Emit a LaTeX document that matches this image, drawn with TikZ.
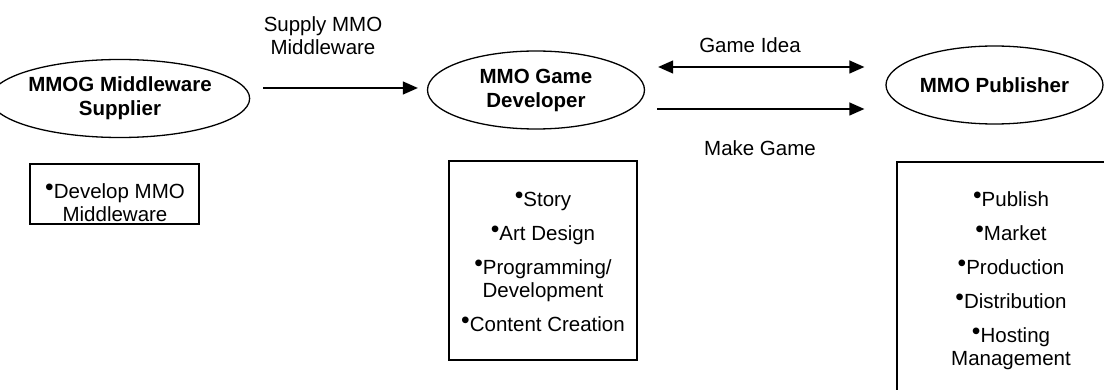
\documentclass[tikz,border=0pt]{standalone}
\usepackage{graphicx}
\usepackage{fontspec}
\setmainfont{Liberation Sans}
\usetikzlibrary{shapes.geometric,arrows.meta}

\newcommand{\basefont}{\fontsize{20.5}{23}\selectfont}
\newcommand{\bul}{\raisebox{0.18em}{\scalebox{1.2}{\textbullet}}}

\tikzset{
  actor/.style={ellipse, draw, line width=1.3pt, inner sep=0pt,
    minimum width=217pt, minimum height=78pt, align=center,
    font=\fontsize{20.5}{24}\selectfont\bfseries},
  panel/.style={draw, line width=1.3pt, inner sep=0pt},
  note/.style={align=center, inner sep=0pt, font=\basefont},
  flow/.style={line width=1.3pt, -{Triangle[length=15pt,width=13pt]}},
  twoway/.style={line width=1.3pt, {Triangle[length=15pt,width=13pt]}-{Triangle[length=15pt,width=13pt]}},
}

\begin{document}
\begin{tikzpicture}[x=1pt, y=-1pt]
  \path[use as bounding box] (0,0) rectangle (1104,390);
  \clip (0,0) rectangle (1104,390);

  % the three parties
  \node[actor] (sup) at (120,98.5) {MMOG Middleware\\Supplier};
  \node[actor] (dev) at (536,90) {MMO Game\\Developer};
  \node[actor] (pub) at (994.5,85) {MMO Publisher};

  % relations between the parties
  \draw[flow] ([xshift=13pt,yshift=10.5pt]sup.east) -- ([xshift=-9pt,yshift=2pt]dev.west);
  \draw[twoway] ([xshift=13pt,yshift=23pt]dev.east) -- ([xshift=-21pt,yshift=18pt]pub.west);
  \draw[flow] ([xshift=12pt,yshift=-19pt]dev.east) -- ([xshift=-21pt,yshift=-24pt]pub.west);

  \node[note] (supply) at (323,36) {Supply MMO\\Middleware};
  \node[note] (idea) at (750,45) {Game Idea};
  \node[note] (make) at (760,148) {Make Game};

  % activity boxes
  \node[panel, minimum width=169pt, minimum height=60pt] (supbox) at (114.5,194) {};
  \node[note] (suptasks) at (115,203) {\bul Develop MMO\\Middleware};

  \node[panel, minimum width=188pt, minimum height=199pt] (devbox) at (543,260.5) {};
  \node[note] (devtasks) at (543,262) {\bul Story\\[11pt]\bul Art Design\\[11pt]\bul Programming/\\Development\\[11pt]\bul Content Creation};

  \node[panel, minimum width=228pt, minimum height=234pt] (pubbox) at (1011,279) {};
  \node[note] (pubtasks) at (1011,281) {\bul Publish\\[11pt]\bul Market\\[11pt]\bul Production\\[11pt]\bul Distribution\\[11pt]\bul Hosting\\Management};
\end{tikzpicture}
\end{document}
